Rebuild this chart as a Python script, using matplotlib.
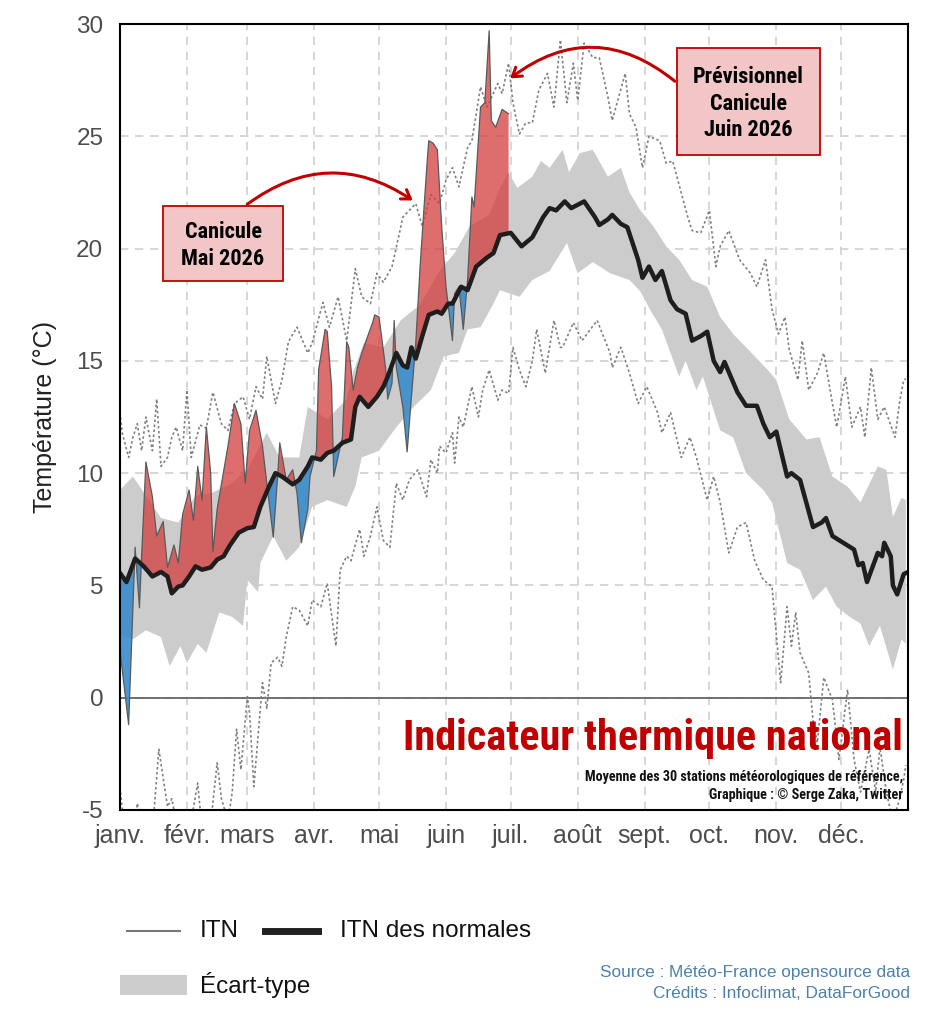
import numpy as np
import matplotlib
matplotlib.use("Agg")
import matplotlib.pyplot as plt
from matplotlib import font_manager as fm
from matplotlib.patches import Rectangle, FancyArrowPatch
from matplotlib.lines import Line2D

# ---------------------------------------------------------------------------
# Data (day of year, temperature in degC)
# ---------------------------------------------------------------------------
MONTH_STARTS = [0, 31, 59, 90, 120, 151, 181, 212, 243, 273, 304, 334]
MONTH_LABELS = ["janv.", "févr.", "mars", "avr.", "mai", "juin",
                "juil.", "août", "sept.", "oct.", "nov.", "déc."]

NORM_DAYS = [0, 3, 7, 11, 15, 19, 22, 24, 27, 29, 32, 35, 38, 42, 45, 48, 51, 55,
             59, 62, 65, 67, 69, 72, 75, 80, 83, 87, 89, 93, 96, 99, 103, 107,
             109, 111, 115, 119, 122, 124, 128, 131, 133, 135, 137, 140, 143,
             147, 149, 152, 154, 158, 161, 165, 170, 173, 176, 181, 186, 191,
             196, 199, 202, 206, 209, 215, 220, 222, 226, 228, 232, 235, 240,
             242, 245, 248, 251, 255, 258, 262, 265, 269, 272, 275, 278, 280,
             286, 290, 295, 298, 301, 304, 309, 311, 315, 321, 325, 327, 330,
             335, 340, 342, 344, 346, 351, 353, 354, 357, 358, 360, 363, 364]
NORM_TEMP = [5.55, 5.15, 6.2, 5.85, 5.4, 5.6, 5.4, 4.65, 4.95, 5.0, 5.4, 5.85,
             5.7, 5.8, 6.15, 6.3, 6.8, 7.35, 7.55, 7.6, 8.5, 8.95, 9.4, 10.0,
             9.85, 9.5, 9.7, 10.3, 10.7, 10.6, 10.9, 11.0, 11.35, 11.5, 12.95,
             13.4, 12.95, 13.4, 13.85, 14.3, 15.35, 14.8, 14.7, 15.6, 15.1,
             16.1, 17.05, 17.2, 17.1, 17.55, 17.55, 18.3, 18.15, 19.2, 19.6,
             19.8, 20.6, 20.7, 20.1, 20.5, 21.4, 21.8, 21.7, 22.1, 21.8, 22.1,
             21.4, 21.05, 21.3, 21.5, 21.1, 20.95, 19.5, 18.7, 19.2, 18.6, 19.0,
             17.7, 17.3, 17.1, 15.9, 16.1, 16.3, 15.0, 14.5, 14.95, 13.6, 13.0,
             13.0, 12.2, 11.6, 11.85, 9.85, 10.0, 9.7, 7.6, 7.8, 8.0, 7.2, 6.9,
             6.6, 5.9, 6.0, 5.15, 6.45, 6.3, 6.9, 6.3, 5.0, 4.6, 5.5, 5.55]

STD_UP_DAYS = [0, 6, 12, 19, 27, 35, 42, 51, 59, 68, 74, 83, 87, 96, 105, 108,
               113, 122, 130, 139, 148, 155, 162, 171, 176, 180, 184, 191, 195,
               199, 205, 208, 213, 219, 226, 232, 236, 241, 247, 253, 259, 265,
               272, 278, 284, 287, 294, 300, 304, 310, 318, 324, 330, 337, 343,
               351, 355, 358, 362, 364]
STD_UP_TEMP = [9.25, 9.85, 9.0, 8.0, 7.8, 9.0, 9.1, 9.5, 10.15, 11.8, 10.7, 10.7,
               12.95, 12.4, 13.3, 14.5, 15.8, 15.6, 16.8, 17.5, 19.0, 19.8, 21.0,
               21.5, 22.7, 23.4, 22.7, 23.2, 23.9, 23.6, 24.4, 23.4, 24.25, 24.4,
               23.2, 23.6, 22.5, 21.7, 21.0, 20.1, 19.5, 18.6, 18.3, 16.95, 16.2,
               15.9, 15.2, 14.6, 14.15, 12.4, 11.5, 11.6, 9.85, 9.4, 8.7, 10.3,
               10.15, 8.05, 8.9, 8.8]

STD_LO_DAYS = [0, 6, 12, 19, 23, 28, 31, 36, 40, 46, 52, 57, 59, 64, 65, 71, 77,
               83, 89, 96, 105, 109, 112, 120, 128, 136, 144, 150, 157, 161, 167,
               173, 176, 185, 191, 199, 207, 212, 219, 227, 233, 236, 241, 246,
               251, 259, 262, 267, 270, 273, 278, 284, 290, 298, 302, 309, 315,
               321, 327, 332, 338, 343, 347, 352, 358, 362, 364]
STD_LO_TEMP = [2.8, 2.6, 3.0, 2.7, 1.4, 2.3, 1.55, 2.4, 2.0, 3.8, 3.6, 3.2, 5.25,
               4.7, 6.0, 7.2, 6.1, 6.7, 8.5, 8.8, 8.5, 9.4, 10.7, 11.0, 12.05,
               12.95, 13.7, 15.2, 15.35, 16.4, 16.5, 17.55, 18.15, 17.85, 18.6,
               19.0, 20.25, 18.9, 19.4, 18.9, 18.7, 18.6, 18.1, 17.2, 16.4, 14.3,
               15.0, 13.7, 14.3, 13.4, 11.9, 11.6, 10.0, 9.25, 8.7, 6.0, 5.7,
               4.35, 4.95, 4.05, 3.6, 3.3, 2.3, 3.2, 1.25, 2.6, 2.4]

REC_MAX_DAYS = [0, 1, 4, 6, 8, 10, 12, 15, 17, 19, 22, 24, 26, 29, 31, 33, 37,
                40, 43, 47, 50, 53, 57, 60, 63, 66, 68, 70, 72, 75, 78, 82, 87,
                89, 94, 97, 101, 105, 109, 112, 116, 119, 122, 126, 129, 131, 137,
                140, 144, 148, 151, 154, 157, 161, 163, 167, 170, 175, 177, 180,
                182, 185, 188, 191, 194, 198, 201, 204, 207, 210, 212, 215, 219,
                222, 226, 228, 231, 234, 236, 239, 242, 245, 250, 253, 256, 263,
                265, 269, 273, 276, 278, 282, 287, 292, 295, 299, 302, 305, 308,
                310, 314, 316, 319, 323, 326, 330, 332, 336, 339, 343, 345, 348,
                351, 354, 359, 361, 363, 364]
REC_MAX_TEMP = [12.7, 11.8, 10.7, 11.6, 12.2, 11.0, 12.5, 11.0, 13.3, 10.3, 10.7,
                11.6, 12.05, 11.0, 13.7, 10.7, 12.15, 12.0, 13.6, 12.2, 11.9, 13.1,
                13.4, 12.4, 13.85, 13.3, 15.2, 14.15, 13.1, 14.15, 15.85, 16.5,
                15.35, 15.8, 17.6, 16.5, 17.85, 15.9, 19.1, 17.85, 17.55, 18.9,
                18.5, 19.2, 20.5, 21.4, 22.0, 21.0, 22.4, 22.0, 23.05, 23.6, 22.75,
                24.5, 24.8, 27.2, 26.3, 27.35, 26.9, 28.25, 26.5, 25.1, 25.6, 25.6,
                27.05, 27.8, 26.3, 29.3, 26.5, 28.25, 26.6, 29.15, 28.5, 28.5,
                26.75, 25.7, 26.75, 27.8, 26.0, 25.4, 23.6, 25.0, 24.8, 23.8, 23.9,
                21.4, 20.8, 20.7, 21.7, 19.2, 20.1, 20.8, 19.5, 18.9, 18.3, 19.5,
                17.3, 16.2, 16.95, 15.5, 14.15, 15.9, 13.7, 14.45, 15.35, 13.1,
                12.05, 14.3, 12.05, 12.95, 11.6, 14.7, 12.4, 12.95, 11.6, 13.1,
                14.15, 14.2]

REC_MIN_DAYS = [0, 2, 6, 8, 12, 15, 18, 22, 24, 28, 32, 36, 37, 41, 45, 47, 50,
                52, 54, 56, 59, 60, 62, 66, 68, 70, 73, 75, 77, 80, 83, 87, 89,
                93, 96, 100, 102, 105, 107, 111, 113, 116, 119, 122, 125, 128,
                131, 134, 138, 140, 142, 144, 147, 148, 151, 154, 155, 157, 159,
                163, 166, 168, 171, 175, 177, 180, 182, 185, 188, 191, 193, 197,
                201, 204, 205, 210, 214, 221, 227, 228, 232, 236, 240, 244, 249,
                251, 255, 260, 264, 267, 272, 275, 278, 282, 286, 290, 294, 298,
                302, 306, 309, 311, 313, 315, 319, 321, 323, 326, 330, 333, 337,
                340, 343, 347, 350, 352, 355, 358, 361, 363, 364]
REC_MIN_TEMP = [-4.0, -5.8, -6.5, -4.7, -6.2, -6.0, -2.3, -4.85, -4.5, -6.5,
                -6.0, -3.8, -4.85, -6.5, -2.9, -4.5, -5.5, -4.2, -1.4, -3.2, 0.05,
                -0.67, -3.96, 0.67, -0.5, 1.55, 1.8, 1.4, 2.7, 4.05, 3.9, 3.2,
                4.35, 4.05, 5.1, 2.3, 5.7, 6.3, 6.1, 7.5, 6.3, 7.2, 8.5, 7.0, 6.7,
                9.55, 8.8, 9.7, 10.15, 9.55, 8.95, 10.6, 10.0, 11.2, 10.9, 11.8,
                10.45, 12.5, 12.05, 13.85, 12.5, 13.7, 14.6, 13.25, 13.7, 13.55,
                15.6, 14.6, 13.85, 15.0, 16.4, 14.45, 16.8, 15.6, 15.6, 16.7,
                15.9, 16.8, 15.35, 14.7, 15.6, 14.45, 13.1, 13.85, 12.7, 11.8,
                12.7, 10.7, 11.6, 10.7, 8.8, 9.85, 8.7, 6.45, 7.6, 7.8, 6.1, 5.25,
                4.95, 0.67, 4.05, 2.3, 3.8, 2.0, 1.1, -1.0, -2.0, 0.9, -0.1,
                -2.75, 0.36, -2.75, -4.2, -2.3, -4.2, -2.2, -4.2, -5.5, -4.55,
                -3.65, -3.0]

ITN_DAYS = [0, 4, 7, 9, 10, 12, 15, 17, 20, 22, 25, 27, 29, 32, 34, 36, 38, 40,
            42, 43, 45, 50, 53, 56, 58, 60, 63, 66, 68, 71, 73, 74, 77, 80, 82,
            84, 87, 88, 91, 92, 95, 96, 98, 99, 103, 105, 106, 108, 110, 112,
            114, 117, 118, 120, 123, 124, 126, 127, 128, 131, 133, 135, 137,
            139, 142, 143, 145, 147, 149, 151, 154, 155, 157, 159, 161, 163,
            164, 167, 169, 171, 172, 174, 177, 180]
ITN_TEMP = [2.1, -1.2, 6.7, 4.0, 6.3, 10.5, 8.95, 7.2, 7.85, 5.8, 6.8, 6.0, 8.15,
            9.25, 7.9, 10.3, 8.8, 12.05, 10.0, 6.5, 8.4, 11.2, 13.1, 12.2, 9.55,
            11.9, 12.8, 11.2, 9.55, 7.15, 9.85, 11.35, 9.7, 10.15, 9.1, 6.9, 8.4,
            9.85, 11.0, 14.6, 16.4, 16.3, 13.85, 9.85, 11.6, 15.85, 15.6, 13.7,
            14.7, 15.35, 15.9, 16.7, 17.05, 16.95, 14.7, 13.3, 14.0, 16.8, 14.7,
            12.95, 10.95, 13.4, 15.8, 19.2, 23.5, 24.8, 24.7, 24.4, 21.0, 18.3,
            15.9, 18.0, 18.3, 16.4, 18.6, 22.3, 21.85, 26.3, 26.5, 29.7, 25.7,
            25.4, 26.2, 26.0]

# ---------------------------------------------------------------------------
# Styling constants
# ---------------------------------------------------------------------------
FIG_W, FIG_H, DPI = 925, 1011, 100
DARK_RED = "#c00000"
BOX_FACE = "#f2c6c6"
RED_FILL = "#d43c3c"
BLUE_FILL = "#3a8ccb"
BAND_GRAY = "#cccccc"
SOURCE_BLUE = "#4f81a8"


def pick_font(candidates, stretch="normal"):
    """Return the first installed family from candidates (DejaVu Sans if none)."""
    for name in candidates:
        try:
            fm.findfont(fm.FontProperties(family=name, stretch=stretch),
                        fallback_to_default=False)
            return name
        except Exception:
            pass
    return "DejaVu Sans"


COND = pick_font(["Liberation Sans Narrow", "Roboto Condensed", "DejaVu Sans"])
BASE = pick_font(["Liberation Sans", "Arial", "DejaVu Sans"])
plt.rcParams["font.family"] = [BASE, "DejaVu Sans"]


def px(x, y):
    """Pixel position in the 925x1011 image -> figure fraction."""
    return x / FIG_W, 1 - y / FIG_H


fig = plt.figure(figsize=(FIG_W / DPI, FIG_H / DPI), dpi=DPI)
ax = fig.add_axes([120 / FIG_W, 1 - 810 / FIG_H, 788 / FIG_W, 786 / FIG_H])

# grid + zero line
for d in MONTH_STARTS:
    ax.axvline(d, color="#d0d0d0", lw=1.2, ls=(0, (5, 4)), zorder=0)
for t in range(-5, 31, 5):
    ax.axhline(t, color="#d0d0d0", lw=1.2, ls=(0, (5, 4)), zorder=0)
ax.axhline(0, color="#666666", lw=1.3, zorder=1)

# standard deviation band
band_x = np.r_[STD_UP_DAYS, STD_LO_DAYS[::-1]]
band_y = np.r_[STD_UP_TEMP, STD_LO_TEMP[::-1]]
ax.fill(band_x, band_y, color=BAND_GRAY, lw=0, zorder=2)

# record lines
ax.plot(REC_MAX_DAYS, REC_MAX_TEMP, color="#808080", lw=1.2,
        ls=(0, (1.5, 1.5)), zorder=3)
ax.plot(REC_MIN_DAYS, REC_MIN_TEMP, color="#808080", lw=1.2,
        ls=(0, (1.5, 1.5)), zorder=3)

# anomaly fill between observed ITN and normal ITN
grid = np.union1d(ITN_DAYS, [d for d in NORM_DAYS if d <= ITN_DAYS[-1]])
itn_g = np.interp(grid, ITN_DAYS, ITN_TEMP)
norm_g = np.interp(grid, NORM_DAYS, NORM_TEMP)
ax.fill_between(grid, norm_g, itn_g, where=itn_g >= norm_g, interpolate=True,
                color=RED_FILL, alpha=0.75, lw=0, zorder=4)
ax.fill_between(grid, norm_g, itn_g, where=itn_g < norm_g, interpolate=True,
                color=BLUE_FILL, alpha=0.9, lw=0, zorder=4)
ax.plot(ITN_DAYS, ITN_TEMP, color="#5a5a5a", lw=0.9, zorder=5)

# normal ITN
ax.plot(NORM_DAYS, NORM_TEMP, color="#1e1e1e", lw=3.2, zorder=6,
        solid_joinstyle="round")

ax.set_xlim(0, 365)
ax.set_ylim(-5, 30)
ax.set_xticks(MONTH_STARTS)
ax.set_xticklabels(MONTH_LABELS)
ax.set_yticks(range(-5, 31, 5))
ax.set_yticklabels([str(t) for t in range(-5, 31, 5)])
ax.tick_params(axis="both", length=0, labelcolor="#4d4d4d")
ax.tick_params(axis="x", pad=10, labelsize=18)
ax.tick_params(axis="y", pad=12, labelsize=17.5)
for s in ax.spines.values():
    s.set_color("black")
    s.set_linewidth(1.5)
    s.set_zorder(10)
fig.text(*px(45, 417), "Température (°C)", rotation=90, ha="center",
         va="center", fontsize=18, color="#222222")

# ---------------------------------------------------------------------------
# Title block inside the plot
# ---------------------------------------------------------------------------
renderer = fig.canvas.get_renderer()


def fit_width(txt, target_px):
    w = txt.get_window_extent(renderer).width
    txt.set_fontsize(txt.get_fontsize() * target_px / w)


title = fig.text(*px(903, 750), "Indicateur thermique national", ha="right",
                 va="baseline", fontsize=30, fontweight="bold", color=DARK_RED,
                 family=[COND, "DejaVu Sans"], zorder=20)
fit_width(title, 500)
sub1 = fig.text(*px(903, 781), "Moyenne des 30 stations météorologiques de référence,",
                ha="right", va="baseline", fontsize=9, fontweight="bold",
                color="#111111", family=[COND, "DejaVu Sans"])
fit_width(sub1, 318)
fig.text(*px(903, 799), "Graphique : © Serge Zaka, Twitter", ha="right",
         va="baseline", fontsize=sub1.get_fontsize(), fontweight="bold",
         color="#111111", family=[COND, "DejaVu Sans"])

# ---------------------------------------------------------------------------
# Annotation boxes and arrows
# ---------------------------------------------------------------------------
def box(x0, y0, x1, y1, text, size):
    fx0, fy1 = px(x0, y1)
    fig.add_artist(Rectangle((fx0, fy1), (x1 - x0) / FIG_W, (y1 - y0) / FIG_H,
                             transform=fig.transFigure, facecolor=BOX_FACE,
                             edgecolor=DARK_RED, lw=1.3, zorder=20))
    fig.text(*px((x0 + x1) / 2, (y0 + y1) / 2 + 2), text, ha="center",
             va="center", fontsize=size, fontweight="bold", color="black",
             family=[COND, "DejaVu Sans"], linespacing=1.25, zorder=21)


box(163, 206, 283, 281, "Canicule\nMai 2026", 16)
box(677, 48, 820, 155, "Prévisionnel\nCanicule\nJuin 2026", 16)

for start, end, rad in [((245, 206), (415, 202), -0.36),
                        ((677, 83), (508, 80), 0.4)]:
    fig.add_artist(FancyArrowPatch(px(*start), px(*end), transform=fig.transFigure,
                                   connectionstyle=f"arc3,rad={rad}",
                                   arrowstyle="->,head_length=6,head_width=4",
                                   color=DARK_RED, lw=2.2, zorder=19))

# ---------------------------------------------------------------------------
# Legend and credits
# ---------------------------------------------------------------------------
fig.add_artist(Line2D([127 / FIG_W, 180 / FIG_W], [1 - 931 / FIG_H] * 2,
                      color="#777777", lw=1.5, transform=fig.transFigure))
fig.text(*px(200, 931), "ITN", va="center", fontsize=17.5, color="#111111")
fig.add_artist(Line2D([265 / FIG_W, 318 / FIG_W], [1 - 931 / FIG_H] * 2,
                      color="#222222", lw=5, transform=fig.transFigure))
fig.text(*px(340, 931), "ITN des normales", va="center", fontsize=17.5,
         color="#111111")
fig.add_artist(Rectangle(px(120, 995), 67 / FIG_W, 20 / FIG_H,
                         transform=fig.transFigure, facecolor=BAND_GRAY, lw=0))
fig.text(*px(200, 985), "Écart-type", va="center", fontsize=17.5, color="#111111")

fig.text(*px(910, 973), "Source : Météo-France opensource data", ha="right",
         va="center", fontsize=12.4, color=SOURCE_BLUE)
fig.text(*px(910, 994), "Crédits : Infoclimat, DataForGood", ha="right",
         va="center", fontsize=12.4, color=SOURCE_BLUE)

fig.savefig("out.png", dpi=DPI, facecolor="white")
